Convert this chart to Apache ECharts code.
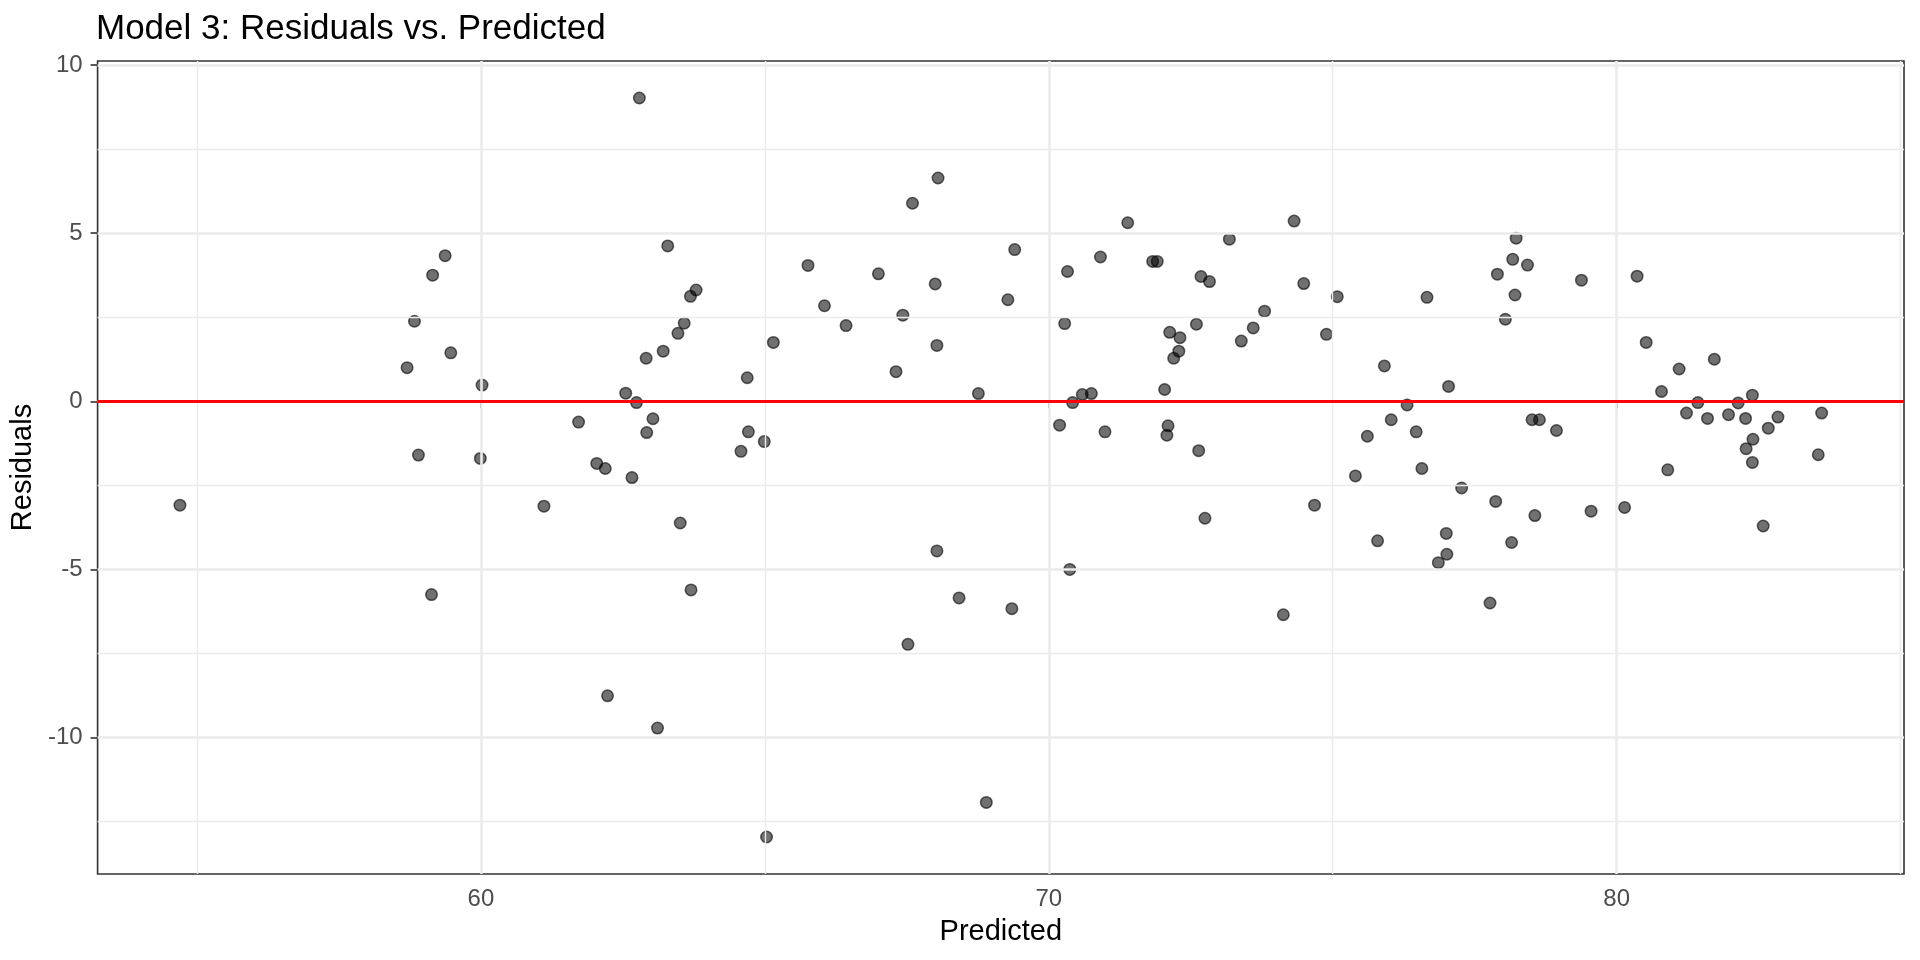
<!DOCTYPE html>
<html>
<head>
<meta charset="utf-8">
<script src="https://cdn.jsdelivr.net/npm/echarts@6/dist/echarts.min.js"></script>
<style>html,body{margin:0;padding:0;background:#fff}#c{width:1920px;height:960px}</style>
</head>
<body>
<div id="c"></div>
<script>
const titleText = "Model 3: Residuals vs. Predicted";
const xName = "Predicted";
const yName = "Residuals";
const xMajorTicks = [60, 70, 80];
const xMinorTicks = [55, 65, 75, 85];
const yMajorTicks = [-10, -5, 0, 5, 10];
const yMinorTicks = [-12.5, -7.5, -2.5, 2.5, 7.5];
const xRange = [53.25, 85.06];
const yRange = [-14.06, 10.12];
const refLine = 0;

const predicted = [
  54.70, 58.70, 58.83, 58.90, 59.15, 59.13, 59.37, 59.47, 60.02, 59.99,
  61.11, 61.72, 62.04, 62.19, 62.23, 62.55, 62.66, 62.74, 62.79, 62.91,
  62.92, 63.03, 63.11, 63.21, 63.29, 63.47, 63.51, 63.58, 63.69, 63.70,
  63.79, 64.58, 64.69, 64.71, 64.99, 65.03, 65.15, 65.76, 66.05, 66.43,
  67.00, 67.31, 67.43, 67.52, 67.60, 68.00, 68.03, 68.03, 68.05, 68.42,
  68.76, 68.90, 69.28, 69.35, 69.40, 70.19, 70.28, 70.33, 70.37, 70.42,
  70.59, 70.75, 70.91, 70.99, 71.39, 71.83, 71.91, 72.04, 72.10, 72.08,
  72.13, 72.20, 72.29, 72.31, 72.60, 72.64, 72.68, 72.75, 72.83, 73.18,
  73.39, 73.60, 73.80, 74.13, 74.32, 74.49, 74.68, 74.89, 75.08, 75.40,
  75.61, 75.79, 75.91, 76.03, 76.31, 76.47, 76.57, 76.66, 76.86, 77.00,
  77.01, 77.04, 77.27, 77.77, 77.87, 77.90, 78.04, 78.15, 78.17, 78.21,
  78.23, 78.43, 78.51, 78.64, 78.56, 78.94, 79.38, 79.55, 80.14, 80.36,
  80.52, 80.79, 80.90, 81.10, 81.23, 81.43, 81.60, 81.72, 81.97, 82.14,
  82.27, 82.28, 82.39, 82.40, 82.39, 82.58, 82.67, 82.84, 83.55, 83.61
];
const residuals = [
  -3.09, 1.00, 2.38, -1.60, 3.75, -5.75, 4.33, 1.44, 0.48, -1.70,
  -3.12, -0.62, -1.85, -2.00, -8.76, 0.24, -2.27, -0.04, 9.02, 1.28,
  -0.93, -0.52, -9.72, 1.49, 4.62, 2.02, -3.62, 2.32, 3.12, -5.61,
  3.31, -1.49, 0.70, -0.91, -1.20, -12.96, 1.75, 4.04, 2.84, 2.25,
  3.79, 0.88, 2.56, -7.23, 5.89, 3.49, 1.66, -4.45, 6.64, -5.85,
  0.23, -11.93, 3.02, -6.17, 4.51, -0.71, 2.31, 3.86, -5.00, -0.04,
  0.20, 0.23, 4.29, -0.91, 5.31, 4.16, 4.16, 0.35, -0.73, -1.01,
  2.05, 1.28, 1.49, 1.89, 2.29, -1.47, 3.71, -3.48, 3.56, 4.82,
  1.79, 2.18, 2.68, -6.35, 5.36, 3.50, -3.09, 1.99, 3.11, -2.22,
  -1.04, -4.15, 1.05, -0.55, -0.11, -0.91, -2.00, 3.09, -4.80, -3.93,
  -4.55, 0.44, -2.58, -6.00, -2.98, 3.78, 2.44, -4.20, 4.22, 3.16,
  4.85, 4.05, -0.55, -0.55, -3.40, -0.87, 3.60, -3.27, -3.16, 3.72,
  1.75, 0.29, -2.04, 0.96, -0.35, -0.04, -0.51, 1.25, -0.40, -0.05,
  -0.51, -1.41, 0.18, -1.13, -1.82, -3.71, -0.80, -0.47, -1.59, -0.35
];

const FONT = "Liberation Sans, Arial, Helvetica, sans-serif";
const gridMajor = {color: '#EBEBEB', width: 2.6, type: 'solid'};
const gridMinor = {color: '#EBEBEB', width: 1.4, type: 'solid'};

const gridLineData = [];
xMinorTicks.forEach(v => gridLineData.push({xAxis: v, lineStyle: gridMinor}));
yMinorTicks.forEach(v => gridLineData.push({yAxis: v, lineStyle: gridMinor}));
xMajorTicks.forEach(v => gridLineData.push({xAxis: v, lineStyle: gridMajor}));
yMajorTicks.forEach(v => gridLineData.push({yAxis: v, lineStyle: gridMajor}));

const chart = echarts.init(document.getElementById('c'), null, {renderer: 'canvas'});
chart.setOption({
  animation: false,
  backgroundColor: '#ffffff',
  textStyle: {fontFamily: FONT},
  title: {
    text: titleText,
    left: 96,
    top: 12,
    padding: 0,
    textStyle: {fontFamily: FONT, fontSize: 35, fontWeight: 'normal', color: '#000000'}
  },
  grid: {
    left: 97, right: 16, top: 61, bottom: 86,
    show: true, borderColor: '#333333', borderWidth: 1.6, backgroundColor: 'transparent',
    containLabel: false
  },
  xAxis: {
    type: 'value',
    min: xRange[0], max: xRange[1],
    name: xName,
    nameLocation: 'middle',
    nameGap: 43,
    nameTextStyle: {fontFamily: FONT, fontSize: 29, color: '#000000', verticalAlign: 'top'},
    axisLine: {show: false},
    axisTick: {show: true, customValues: xMajorTicks, length: 7, lineStyle: {color: '#333333', width: 1.6}},
    axisLabel: {show: true, customValues: xMajorTicks, margin: 13, fontFamily: FONT, fontSize: 24, color: '#4D4D4D'},
    splitLine: {show: false}
  },
  yAxis: {
    type: 'value',
    min: yRange[0], max: yRange[1],
    name: yName,
    nameLocation: 'middle',
    nameGap: 58,
    nameRotate: 90,
    nameTextStyle: {fontFamily: FONT, fontSize: 29, color: '#000000'},
    axisLine: {show: false},
    axisTick: {show: true, customValues: yMajorTicks, length: 7, lineStyle: {color: '#333333', width: 1.6}},
    axisLabel: {show: true, customValues: yMajorTicks, margin: 15, fontFamily: FONT, fontSize: 24, color: '#4D4D4D'},
    splitLine: {show: false}
  },
  series: [
    {
      name: 'grid',
      type: 'scatter',
      data: [],
      z: 1,
      silent: true,
      markLine: {
        silent: true,
        symbol: ['none', 'none'],
        label: {show: false},
        animation: false,
        data: gridLineData
      }
    },
    {
      name: 'ref',
      type: 'scatter',
      data: [],
      z: 2,
      silent: true,
      markLine: {
        silent: true,
        symbol: ['none', 'none'],
        label: {show: false},
        animation: false,
        lineStyle: {color: '#FF0000', width: 3, type: 'solid'},
        data: [{yAxis: refLine}]
      }
    },
    {
      name: 'points',
      type: 'scatter',
      z: 3,
      symbol: 'circle',
      symbolSize: 11.5,
      itemStyle: {color: 'rgba(0,0,0,0.7)', borderColor: 'rgba(0,0,0,0.75)', borderWidth: 1.5},
      data: predicted.map((x, i) => [x, residuals[i]])
    }
  ]
});
</script>
</body>
</html>
